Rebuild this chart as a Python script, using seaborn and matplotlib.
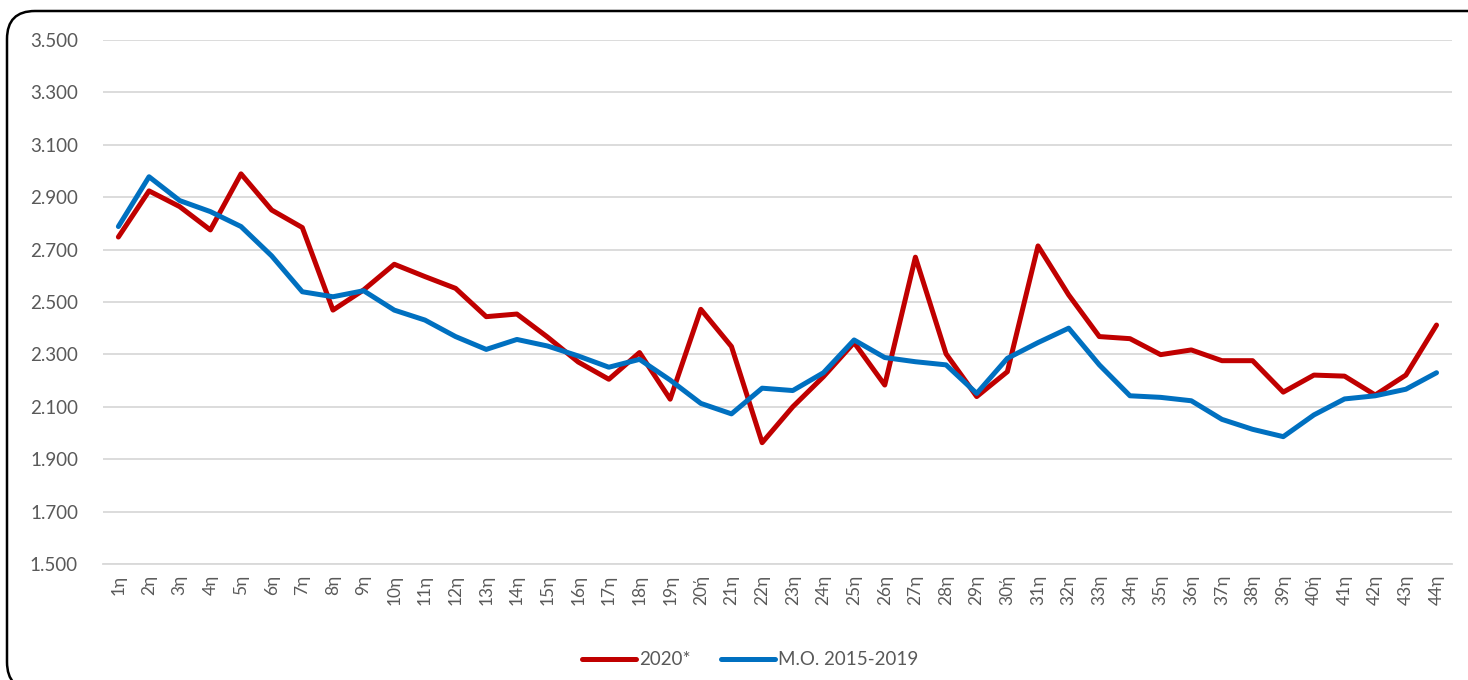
import numpy as np
import pandas as pd
import matplotlib
matplotlib.use('Agg')
import matplotlib.pyplot as plt
from matplotlib.patches import FancyBboxPatch
import seaborn as sns

# weeks (Greek ordinal labels as in the source)
weeks = [f'{i}η' for i in range(1, 45)]
weeks[19] = '20ή'
weeks[29] = '30ή'
weeks[39] = '40ή'

# values
y2020 = [2748, 2924, 2864, 2775, 2989, 2851, 2784, 2469, 2546, 2644,
         2597, 2552, 2444, 2454, 2366, 2271, 2205, 2307, 2129, 2472,
         2330, 1963, 2100, 2215, 2345, 2183, 2671, 2302, 2139, 2234,
         2714, 2527, 2368, 2360, 2299, 2317, 2276, 2276, 2156, 2221,
         2217, 2145, 2221, 2412]
avg_2015_2019 = [2788, 2978, 2887, 2845, 2788, 2676, 2539, 2520, 2543, 2469,
                 2431, 2368, 2319, 2357, 2332, 2294, 2251, 2281, 2202, 2113,
                 2073, 2171, 2162, 2230, 2355, 2288, 2272, 2260, 2151, 2285,
                 2345, 2400, 2260, 2142, 2136, 2123, 2052, 2014, 1986, 2069,
                 2130, 2142, 2167, 2230]
series_names = ['2020*', 'Μ.Ο. 2015-2019']
colors = ['#C00000', '#0070C0']

df = pd.DataFrame({
    'pos': list(range(len(weeks))) * 2,
    'value': y2020 + avg_2015_2019,
    'series': [series_names[0]] * len(weeks) + [series_names[1]] * len(weeks),
})

sns.set_style('white')
plt.rcParams['font.family'] = ['Lato', 'DejaVu Sans']

W, H = 1468, 680
fig = plt.figure(figsize=(W / 100, H / 100), dpi=100)
ax = fig.add_axes([0.0702, 0.1706, 0.9188, 0.7706])

sns.lineplot(data=df, x='pos', y='value', hue='series', palette=colors,
             linewidth=3.6, ax=ax, legend=False, sort=False)

ax.set_xlim(-0.5, len(weeks) - 0.5)
ax.set_ylim(1500, 3500)
ax.set_yticks(np.arange(1500, 3501, 200))
ax.set_yticklabels([f'{v:,}'.replace(',', '.') for v in range(1500, 3501, 200)])
ax.set_xticks(range(len(weeks)))
ax.set_xticklabels(weeks, rotation=90)
ax.yaxis.grid(True, color='#D9D9D9', linewidth=1.3)
ax.set_axisbelow(True)
for s in ['top', 'right', 'left']:
    ax.spines[s].set_visible(False)
ax.spines['bottom'].set_color('#D9D9D9')
ax.spines['bottom'].set_linewidth(1.3)
ax.tick_params(axis='y', length=0, pad=18, labelsize=13.5, labelcolor='#595959')
ax.tick_params(axis='x', length=0, pad=8, labelsize=12.5, labelcolor='#595959')
ax.set_xlabel('')
ax.set_ylabel('')

handles = [plt.Line2D([], [], color=c, linewidth=3.6, solid_capstyle='round') for c in colors]
fig.legend(handles, series_names, loc='center', bbox_to_anchor=(0.511, 0.03),
           ncol=2, frameon=False, fontsize=13.5, handlelength=2.9,
           handletextpad=0.15, columnspacing=1.6, labelcolor='#595959')

# rounded outer frame, runs past the right and bottom edges of the image
frame = FancyBboxPatch((7 / W, -10 / H), 1490 / W, 679 / H,
                       boxstyle=f'round,pad=0,rounding_size={28 / W}',
                       mutation_aspect=W / H,
                       transform=fig.transFigure, facecolor='none',
                       edgecolor='black', linewidth=1.8, clip_on=False)
fig.patches.append(frame)

fig.savefig('out.png', dpi=100)
